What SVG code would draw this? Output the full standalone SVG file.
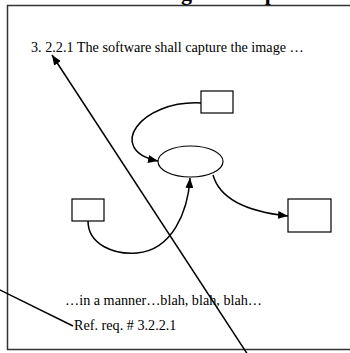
<svg xmlns="http://www.w3.org/2000/svg" width="350" height="353" viewBox="0 0 350 353">
<defs>
<style>
.t{font-family:"Liberation Serif","Times New Roman",serif;font-size:14.2px;fill:#000}
.title{font-family:"Liberation Serif","Times New Roman",serif;font-size:22px;font-weight:bold;fill:#000}
.n{fill:#fff;stroke:#000;stroke-width:1.2}
.c{fill:none;stroke:#000;stroke-width:1.5}
</style>
<marker id="ah" viewBox="0 0 10 8" refX="10" refY="4" markerWidth="10" markerHeight="8" markerUnits="userSpaceOnUse" orient="auto">
<path d="M0,0 L10,4 L0,8 Z" fill="#000"/>
</marker>
</defs>
<rect width="350" height="353" fill="#fff"/>
<text class="title" x="172" y="0" text-anchor="middle">Software Design Example</text>
<rect id="frame" x="7.5" y="5.5" width="360" height="344" fill="none" stroke="#333" stroke-width="1.5"/>
<text class="t" x="31" y="52">3. 2.2.1 The software shall capture the image …</text>
<text class="t" x="65" y="305">…in a manner…blah, blah, blah…</text>
<text class="t" x="74" y="330">Ref. req. # 3.2.2.1</text>
<g id="node-top"><rect class="n" x="201" y="91" width="32" height="22"/></g>
<g id="node-ellipse"><ellipse class="n" cx="190.5" cy="161.5" rx="32.5" ry="15.5"/></g>
<g id="node-left"><rect class="n" x="72" y="199" width="32" height="22"/></g>
<g id="node-right"><rect class="n" x="288" y="199" width="43" height="33"/></g>
<g id="connectors">
<path class="c" d="M201,103 C140,100 105,150 158,161" marker-end="url(#ah)"/>
<path class="c" d="M213,175 C220,200 250,212 288,216" marker-end="url(#ah)"/>
<path class="c" d="M88,221 C88,245 115,255 137,253 C172,250 188,212 190,178" marker-end="url(#ah)"/>
<path class="c" d="M248,355 L52,55" marker-end="url(#ah)"/>
<path class="c" d="M-2,289 L73,326"/>
</g>
</svg>
